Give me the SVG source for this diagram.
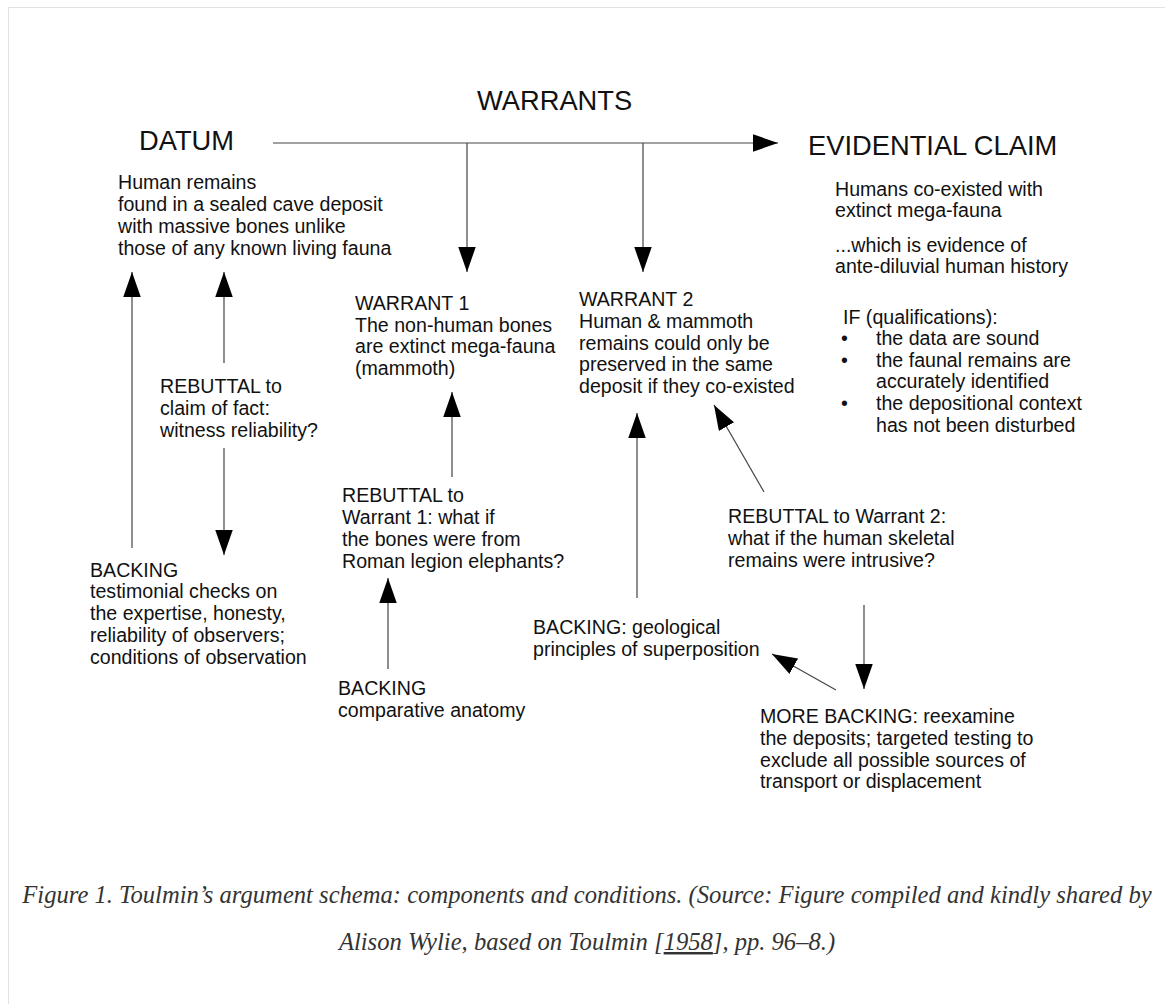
<svg xmlns="http://www.w3.org/2000/svg" width="1165" height="1004" viewBox="0 0 1165 1004">
<defs>
<style>
.h{font-family:"Liberation Sans",Arial,sans-serif;font-size:27.3px;fill:#111}
.t{font-family:"Liberation Sans",Arial,sans-serif;font-size:19.6px;fill:#111}
.cap{font-family:"Liberation Serif","Times New Roman",serif;font-style:italic;font-size:24.6px;fill:#333}
.c line{stroke:#444;stroke-width:1.2;marker-end:url(#ah)}
</style>
<marker id="ah" markerUnits="userSpaceOnUse" markerWidth="26" markerHeight="18" refX="25" refY="8.75" orient="auto">
<path d="M0,0 L25,8.75 L0,17.5 z" fill="#000"/>
</marker>
</defs>
<rect x="0" y="0" width="1165" height="1004" fill="#fff"/>
<rect x="8.5" y="7.5" width="1200" height="1100" fill="none" stroke="#e2e2e2" stroke-width="1"/>

<g class="c" id="connectors">
<line x1="273" y1="143" x2="778" y2="143"/>
<line x1="467" y1="143" x2="467" y2="272"/>
<line x1="643" y1="143" x2="643" y2="272"/>
<line x1="132" y1="548" x2="132" y2="272"/>
<line x1="224" y1="363" x2="224" y2="272"/>
<line x1="224" y1="448" x2="224" y2="555"/>
<line x1="452" y1="477" x2="452" y2="392"/>
<line x1="388" y1="669" x2="388" y2="578"/>
<line x1="637" y1="598" x2="637" y2="413"/>
<line x1="764" y1="492" x2="714" y2="405"/>
<line x1="864" y1="605" x2="864" y2="689"/>
<line x1="836" y1="690" x2="772" y2="654"/>
</g>

<g id="warrants-label"><text class="h" x="477" y="110">WARRANTS</text></g>

<g id="datum">
<text class="h" x="139" y="150">DATUM</text>
<text class="t" x="118" y="189">Human remains</text>
<text class="t" x="118" y="211">found in a sealed cave deposit</text>
<text class="t" x="118" y="233">with massive bones unlike</text>
<text class="t" x="118" y="255">those of any known living fauna</text>
</g>

<g id="claim">
<text class="h" x="808" y="155">EVIDENTIAL CLAIM</text>
<text class="t" x="835" y="196">Humans co-existed with</text>
<text class="t" x="835" y="217">extinct mega-fauna</text>
<text class="t" x="835" y="252">...which is evidence of</text>
<text class="t" x="835" y="273">ante-diluvial human history</text>
</g>

<g id="qualifications">
<text class="t" x="843" y="324">IF (qualifications):</text>
<text class="t" x="841" y="345">•</text>
<text class="t" x="876" y="345">the data are sound</text>
<text class="t" x="841" y="367">•</text>
<text class="t" x="876" y="367">the faunal remains are</text>
<text class="t" x="876" y="388">accurately identified</text>
<text class="t" x="841" y="410">•</text>
<text class="t" x="876" y="410">the depositional context</text>
<text class="t" x="876" y="432">has not been disturbed</text>
</g>

<g id="warrant1">
<text class="t" x="355" y="310">WARRANT 1</text>
<text class="t" x="355" y="332">The non-human bones</text>
<text class="t" x="355" y="353">are extinct mega-fauna</text>
<text class="t" x="355" y="375">(mammoth)</text>
</g>

<g id="warrant2">
<text class="t" x="579" y="306">WARRANT 2</text>
<text class="t" x="579" y="328">Human &amp; mammoth</text>
<text class="t" x="579" y="350">remains could only be</text>
<text class="t" x="579" y="371">preserved in the same</text>
<text class="t" x="579" y="393">deposit if they co-existed</text>
</g>

<g id="rebuttal-fact">
<text class="t" x="160" y="393">REBUTTAL to</text>
<text class="t" x="160" y="415">claim of fact:</text>
<text class="t" x="160" y="437">witness reliability?</text>
</g>

<g id="backing-testimonial">
<text class="t" x="90" y="577">BACKING</text>
<text class="t" x="90" y="598">testimonial checks on</text>
<text class="t" x="90" y="620">the expertise, honesty,</text>
<text class="t" x="90" y="642">reliability of observers;</text>
<text class="t" x="90" y="664">conditions of observation</text>
</g>

<g id="rebuttal-w1">
<text class="t" x="342" y="502">REBUTTAL to</text>
<text class="t" x="342" y="524">Warrant 1: what if</text>
<text class="t" x="342" y="546">the bones were from</text>
<text class="t" x="342" y="568">Roman legion elephants?</text>
</g>

<g id="backing-anatomy">
<text class="t" x="338" y="695">BACKING</text>
<text class="t" x="338" y="717">comparative anatomy</text>
</g>

<g id="rebuttal-w2">
<text class="t" x="728" y="523">REBUTTAL to Warrant 2:</text>
<text class="t" x="728" y="545">what if the human skeletal</text>
<text class="t" x="728" y="567">remains were intrusive?</text>
</g>

<g id="backing-geological">
<text class="t" x="533" y="634">BACKING: geological</text>
<text class="t" x="533" y="656">principles of superposition</text>
</g>

<g id="more-backing">
<text class="t" x="760" y="723">MORE BACKING: reexamine</text>
<text class="t" x="760" y="745">the deposits; targeted testing to</text>
<text class="t" x="760" y="767">exclude all possible sources of</text>
<text class="t" x="760" y="788">transport or displacement</text>
</g>

<g id="caption">
<text class="cap" x="587" y="903" text-anchor="middle">Figure 1. Toulmin’s argument schema: components and conditions. (Source: Figure compiled and kindly shared by</text>
<text class="cap" x="587" y="950" text-anchor="middle">Alison Wylie, based on Toulmin [<tspan text-decoration="underline">1958</tspan>], pp. 96–8.)</text>
</g>
</svg>
